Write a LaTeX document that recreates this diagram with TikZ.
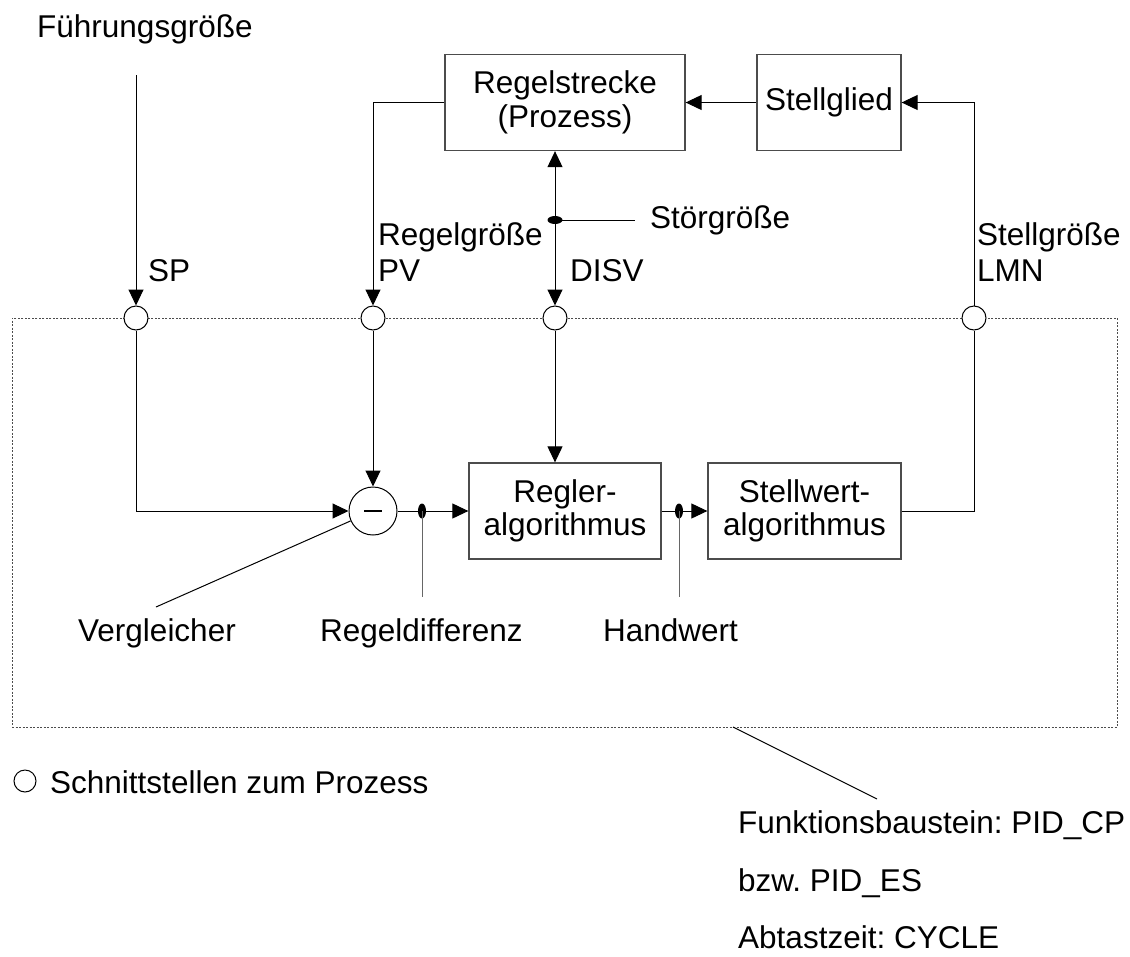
\documentclass[tikz,border=0pt]{standalone}
\usepackage{fontspec}
\setmainfont{Liberation Sans}
\usetikzlibrary{arrows.meta,shapes.geometric}
\frenchspacing
\begin{document}
\begin{tikzpicture}[x=1pt,y=-1pt,
  every node/.style={font=\fontsize{31.5}{33.5}\selectfont},
  blk/.style={draw=black!70,line width=1.3pt,minimum width=#1,minimum height=96pt,
    align=center,inner sep=0pt},
  wire/.style={line width=1pt},
  arr/.style={-{Triangle[length=16pt,width=15pt]}},
  port/.style={circle,draw,fill=white,line width=1pt,minimum size=24pt,inner sep=0pt},
  vdot/.style={ellipse,fill,minimum width=8pt,minimum height=15pt,inner sep=0pt},
  hdot/.style={ellipse,fill,minimum width=15pt,minimum height=8pt,inner sep=0pt},
  lbl/.style={anchor=base west,inner sep=0pt},
  lead/.style={line width=1pt,black!60}]
\useasboundingbox (0,0) rectangle (1130,956);

% function block frame
\node[draw=black!70,line width=1pt,dash pattern=on 2pt off 1.5pt,
  minimum width=1105pt,minimum height=409pt,inner sep=0pt] (fb) at (564.5,522.5) {};

% blocks
\node[blk=240pt] (rs) at (565,102.5) {Regelstrecke\\(Prozess)};
\node[blk=144pt] (sg) at (829,102.5) {Stellglied};
\node[blk=192pt] (rg) at (565,511) {Regler-\\algorithmus};
\node[blk=193pt] (sw) at (804.5,511) {Stellwert-\\algorithmus};

% interface points
\node[port] (sp) at (136,318) {};
\node[port] (pv) at (373,318) {};
\node[port] (disv) at (555,318) {};
\node[port] (lmn) at (974,318) {};

% comparator
\node[circle,draw,line width=1pt,minimum size=48pt,inner sep=0pt] (cmp) at (373,511) {};
\draw[line width=1.3pt] ([xshift=-9pt]cmp.center) -- ([xshift=9pt]cmp.center);

% free ends
\coordinate (fg) at (136,75);
\coordinate (st) at (635,220);
\coordinate (vgl) at (156,607);
\coordinate (rdl) at (422,597);
\coordinate (hwl) at (679,597);
\coordinate (fbl) at (733,727);
\coordinate (fkl) at (877,799);

% signal lines
\draw[wire,arr] (fg) -- (sp);
\draw[wire,arr] (sp) |- (cmp);
\draw[wire,arr] (rs) -| (pv);
\draw[wire,arr] (pv) -- (cmp);
\node[hdot] (dj) at (555,220) {};
\draw[wire,arr] (dj.center) -- (dj.center |- rs.south);
\draw[wire,arr] (dj.center) -- (disv);
\draw[wire] (dj.center) -- (st);
\draw[wire,arr] (disv) -- (disv |- rg.north);
\draw[wire,arr] (sg) -- (rs);
\draw[wire] (sw) -| (lmn);
\draw[wire,arr] (lmn) |- (sg);
\draw[wire,arr] (cmp) -- (rg);
\draw[wire,arr] (rg) -- (sw);
\node[vdot] (rd) at (422,511) {};
\node[vdot] (hw) at (679,511) {};

% leader lines
\draw[wire] (cmp) -- (vgl);
\draw[lead] (rd.center) -- (rdl);
\draw[lead] (hw.center) -- (hwl);
\draw[wire] (fbl) -- (fkl);

% labels
\node[lbl] (tfg) at (37,37) {Führungsgröße};
\node[lbl] (tsp) at (148,281) {SP};
\node[lbl] (trg) at (378,245) {Regelgröße};
\node[lbl] (tpv) at (378,281) {PV};
\node[lbl] (tdv) at (570,281) {DISV};
\node[lbl] (tst) at (650,228) {Störgröße};
\node[lbl] (tsg) at (977,245) {Stellgröße};
\node[lbl] (tlm) at (977,281) {LMN};
\node[lbl] (tvg) at (78,641) {Vergleicher};
\node[lbl] (trd) at (320,641) {Regeldifferenz};
\node[lbl] (thw) at (603,641) {Handwert};

% legend
\node[circle,draw,line width=1pt,minimum size=22pt,inner sep=0pt] (legc) at (25,781) {};
\node[lbl] (tleg) at (50,793) {Schnittstellen zum Prozess};

% block description
\node[lbl] (tf1) at (738,833) {Funktionsbaustein: PID\_CP};
\node[lbl] (tf2) at (738,891) {bzw. PID\_ES};
\node[lbl] (tf3) at (738,948) {Abtastzeit: CYCLE};
\end{tikzpicture}
\end{document}
